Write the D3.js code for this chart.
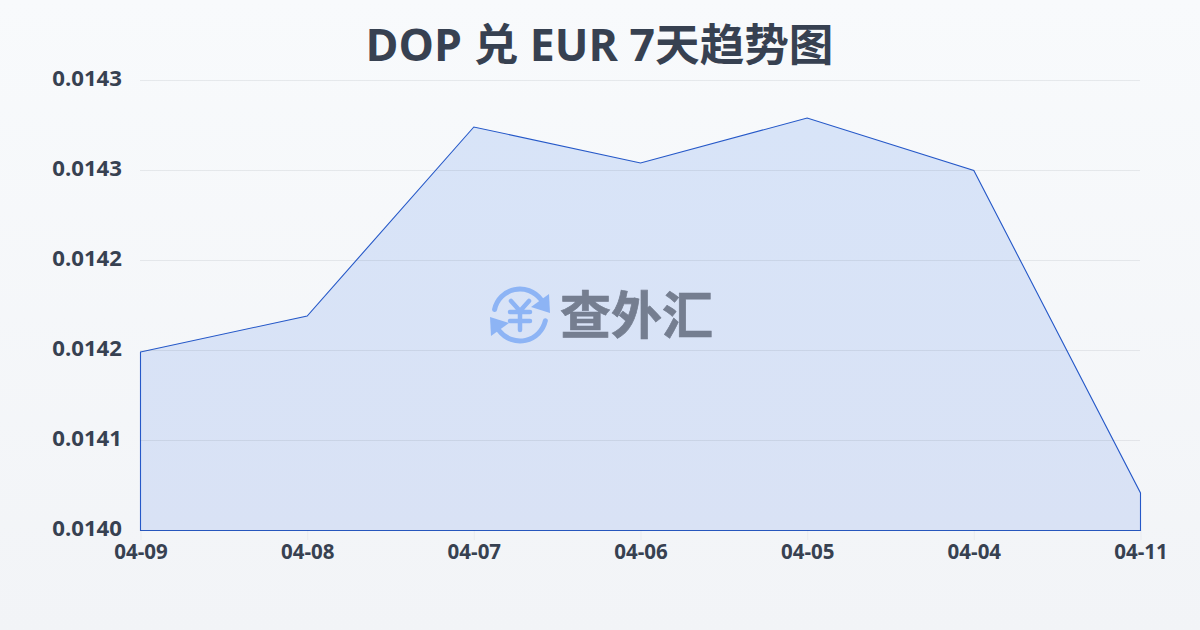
<!DOCTYPE html>
<html><head><meta charset="utf-8">
<script src="https://cdn.jsdelivr.net/npm/d3@7/dist/d3.min.js"></script>
<style>html,body{margin:0;padding:0;width:1200px;height:630px;overflow:hidden}svg{display:block}</style>
</head><body><svg id="c" width="1200" height="630"></svg>
<script>
const chartTitle = "DOP 兑 EUR 7天趋势图";
const dates = ["04-09","04-08","04-07","04-06","04-05","04-04","04-11"];
const rates = [0.014149,0.014173,0.014299,0.014275,0.014305,0.01427,0.014055];
const yTicks = [0.01403,0.01409,0.01415,0.01421,0.01427,0.01433];
const yTickLabels = ["0.0140","0.0141","0.0142","0.0142","0.0143","0.0143"];
const latin = "'Open Sans','Noto Sans CJK SC',sans-serif";

const svg = d3.select("#c");
const defs = svg.append("defs");
const bg = defs.append("linearGradient").attr("id","bg").attr("x1",0).attr("y1",0).attr("x2",0).attr("y2",1);
bg.append("stop").attr("offset",0).attr("stop-color","#f8fafc");
bg.append("stop").attr("offset",1).attr("stop-color","#f2f4f7");
const ag = defs.append("linearGradient").attr("id","ag").attr("x1",0).attr("y1",0).attr("x2",0).attr("y2",1);
ag.append("stop").attr("offset",0).attr("stop-color","#d8e4f8");
ag.append("stop").attr("offset",1).attr("stop-color","#d9e2f5");
svg.append("rect").attr("width",1200).attr("height",630).attr("fill","url(#bg)");

const x = d3.scalePoint().domain(d3.range(dates.length)).range([140.5,1140.5]);
const y = d3.scaleLinear().domain([0.01403,0.01433]).range([530.5,80.5]);

svg.append("text").attr("x",599.5).attr("y",61).attr("text-anchor","middle")
  .attr("font-family",latin).attr("font-weight",700).attr("font-size",44.6).attr("fill","#374151").text(chartTitle);

// area under the line
const area = d3.area().x((d,i)=>x(i)).y0(y(0.01403)).y1(d=>y(d));

svg.append("path").datum(rates).attr("d",area).attr("fill","url(#ag)")
  .attr("stroke","#2558c8").attr("stroke-width",1.1);

// grid over the fill
const grid = svg.append("g");
grid.selectAll("line").data(yTicks).join("line")
  .attr("x1",140).attr("x2",1140)
  .attr("y1",d=>Math.floor(y(d))+.5).attr("y2",d=>Math.floor(y(d))+.5)
  .attr("stroke","#374151").attr("stroke-opacity",.09);

const xAxis = d3.axisBottom(x).tickSize(10).tickPadding(4).tickFormat(i=>dates[i]);
const gx = svg.append("g").attr("transform","translate(0,530)").call(xAxis);
gx.select(".domain").remove();
gx.selectAll("line").attr("stroke","#374151").attr("stroke-opacity",.05);
gx.selectAll("text").attr("font-family",latin).attr("font-weight",700).attr("font-size",20.5).attr("fill","#374151");

const yAxis = d3.axisLeft(y).tickValues(yTicks).tickSize(0).tickPadding(18).tickFormat((d,i)=>yTickLabels[i]);
const gy = svg.append("g").attr("transform","translate(140,-2)").call(yAxis);
gy.select(".domain").remove();
gy.selectAll("text").attr("font-family",latin).attr("font-weight",700).attr("font-size",22.2).attr("fill","#374151");

// watermark logo
const logo = svg.append("g").attr("transform","translate(520,315)");
const blue = "#8db4f5";
const arc = d3.arc().innerRadius(23.5).outerRadius(28.5).cornerRadius(2.5);
logo.append("path").attr("d",arc({startAngle:-1.45,endAngle:1.02})).attr("fill",blue);
logo.append("path").attr("d",arc({startAngle:1.7,endAngle:4.15})).attr("fill",blue);
logo.append("path").attr("d","M30,-2 L11,-8 L29,-21 Z").attr("fill",blue);
logo.append("path").attr("d","M-30,2 L-11,8 L-29,21 Z").attr("fill",blue);
logo.append("path").attr("d","M-9,-14 L0,-4 L9,-14 M-10,-3 H10 M-10,6 H10 M0,-4 V15")
  .attr("fill","none").attr("stroke",blue).attr("stroke-width",4.5).attr("stroke-linecap","round").attr("stroke-linejoin","round");
svg.append("text").attr("x",560).attr("y",334).attr("font-family","'Noto Sans CJK SC'").attr("font-weight",700)
  .attr("font-size",51).attr("fill","#757e90").attr("stroke","#757e90").attr("stroke-width",.7).text("查外汇");
</script></body></html>
